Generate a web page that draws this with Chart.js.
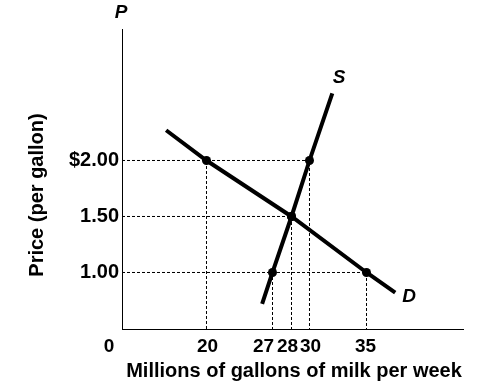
<!DOCTYPE html>
<html>
<head>
<meta charset="utf-8">
<script src="https://cdn.jsdelivr.net/npm/chart.js@4.4.1/dist/chart.umd.min.js"></script>
<style>
  html, body { margin: 0; padding: 0; background: #fff; }
  canvas { display: block; }
</style>
</head>
<body>
<canvas id="c" width="493" height="386"></canvas>
<script>
/* Supply & demand for milk: quantity in millions of gallons per week,
   price in dollars per gallon. */

const xTicks      = [20, 27, 28, 30, 35];
const xTickLabels = ['20', '27', '28', '30', '35'];
const yTicks      = [1.00, 1.50, 2.00];
const yTickLabels = ['1.00', '1.50', '$2.00'];

// curves, end points included; marked = gets a dot + dashed guides
const supplyQ      = [25.9, 27, 28, 30, 32.0];
const supplyP      = [0.72, 1.00, 1.50, 2.00, 2.60];
const supplyMarked = [false, true, true, true, false];

const demandQ      = [15.7, 20, 28, 35, 37.5];
const demandP      = [2.27, 2.00, 1.50, 1.00, 0.82];
const demandMarked = [false, true, true, true, false];

/* --- axis layout --- */
const X_MIN = 11, X_MAX = 43.4;
const Y_MIN = 0.4955, Y_MAX = 3.1741;
// the figure is not drawn to scale along Q, so the x axis is
// piecewise linear between its ticks (share of axis width per tick)
const xTickSpacing = [0.2478, 0.44135, 0.49707, 0.54985, 0.71701];
const xLabelNudge  = [1, -9, -4, 1, -1];

const FONT = '"Liberation Sans", Arial, Helvetica, sans-serif';

const knots = [[X_MIN, 0], ...xTicks.map((v, i) => [v, xTickSpacing[i]]), [X_MAX, 1]];

class PiecewiseScale extends Chart.LinearScale {
  getPixelForValue(value) {
    if (value == null || isNaN(value)) return NaN;
    let i = 1;
    while (i < knots.length - 1 && value > knots[i][0]) i++;
    const [v0, f0] = knots[i - 1], [v1, f1] = knots[i];
    return this.getPixelForDecimal(f0 + (value - v0) * (f1 - f0) / (v1 - v0));
  }
  getValueForPixel(pixel) {
    const d = this.getDecimalForPixel(pixel);
    let i = 1;
    while (i < knots.length - 1 && d > knots[i][1]) i++;
    const [v0, f0] = knots[i - 1], [v1, f1] = knots[i];
    return v0 + (d - f0) * (v1 - v0) / (f1 - f0);
  }
}
PiecewiseScale.id = 'piecewise';
PiecewiseScale.defaults = Chart.LinearScale.defaults;
Chart.register(PiecewiseScale);

/* --- datasets --- */
const curve = (qs, ps, marked) => ({
  data: qs.map((q, i) => ({ x: q, y: ps[i] })),
  borderColor: '#000',
  borderWidth: 4,
  borderCapStyle: 'butt',
  pointRadius: c => marked[c.dataIndex] ? 4.5 : 0,
  pointBackgroundColor: '#000',
  pointBorderWidth: 0,
  order: 0
});

const guide = (q, p) => ({
  data: [{ x: X_MIN, y: p }, { x: q, y: p }, { x: q, y: Y_MIN }],
  borderColor: '#000',
  borderWidth: 1,
  borderDash: [3, 2],
  pointRadius: 0,
  order: 1
});

const guides = [];
supplyQ.forEach((q, i) => { if (supplyMarked[i]) guides.push(guide(q, supplyP[i])); });
demandQ.forEach((q, i) => { if (demandMarked[i]) guides.push(guide(q, demandP[i])); });

/* --- text that sits outside the usual axis slots --- */
const figureText = {
  id: 'figureText',
  afterDraw(chart) {
    const { ctx, scales: { x } } = chart;
    ctx.save();
    ctx.fillStyle = '#000';
    ctx.textAlign = 'center';
    ctx.textBaseline = 'middle';

    ctx.font = `bold 19px ${FONT}`;
    ctx.fillText('0', 109, 347);
    xTicks.forEach((v, i) =>
      ctx.fillText(xTickLabels[i], x.getPixelForValue(v) + xLabelNudge[i], 347));

    ctx.font = `bold 20px ${FONT}`;
    ctx.fillText('Millions of gallons of milk per week', 294, 371);

    ctx.save();
    ctx.translate(37, 195);
    ctx.rotate(-Math.PI / 2);
    ctx.fillText('Price (per gallon)', 0, 0);
    ctx.restore();

    ctx.font = `italic bold 19px ${FONT}`;
    ctx.fillText('P', 121, 13);
    ctx.fillText('S', 339, 78);
    ctx.fillText('D', 409, 297);
    ctx.restore();
  }
};

new Chart(document.getElementById('c'), {
  type: 'line',
  data: {
    datasets: [
      curve(supplyQ, supplyP, supplyMarked),
      curve(demandQ, demandP, demandMarked),
      ...guides
    ]
  },
  options: {
    responsive: false,
    devicePixelRatio: 1,
    animation: false,
    events: [],
    layout: { padding: { left: 0, top: 29, right: 30, bottom: 0 } },
    elements: { line: { tension: 0 } },
    plugins: { legend: { display: false }, tooltip: { enabled: false } },
    scales: {
      x: {
        type: 'piecewise',
        min: X_MIN,
        max: X_MAX,
        grid: { display: false },
        border: { display: true, color: '#000', width: 1 },
        ticks: { display: false },
        afterBuildTicks: s => { s.ticks = xTicks.map(v => ({ value: v })); },
        afterFit: s => { s.height = 57; }
      },
      y: {
        type: 'linear',
        min: Y_MIN,
        max: Y_MAX,
        grid: { display: false, drawTicks: false },
        border: { display: true, color: '#000', width: 1 },
        ticks: {
          color: '#000',
          padding: 3,
          font: { family: FONT, size: 20, weight: 'bold' },
          callback: (v, i) => yTickLabels[i]
        },
        afterBuildTicks: s => { s.ticks = yTicks.map(v => ({ value: v })); },
        afterFit: s => { s.width = 122; }
      }
    }
  },
  plugins: [figureText]
});
</script>
</body>
</html>
